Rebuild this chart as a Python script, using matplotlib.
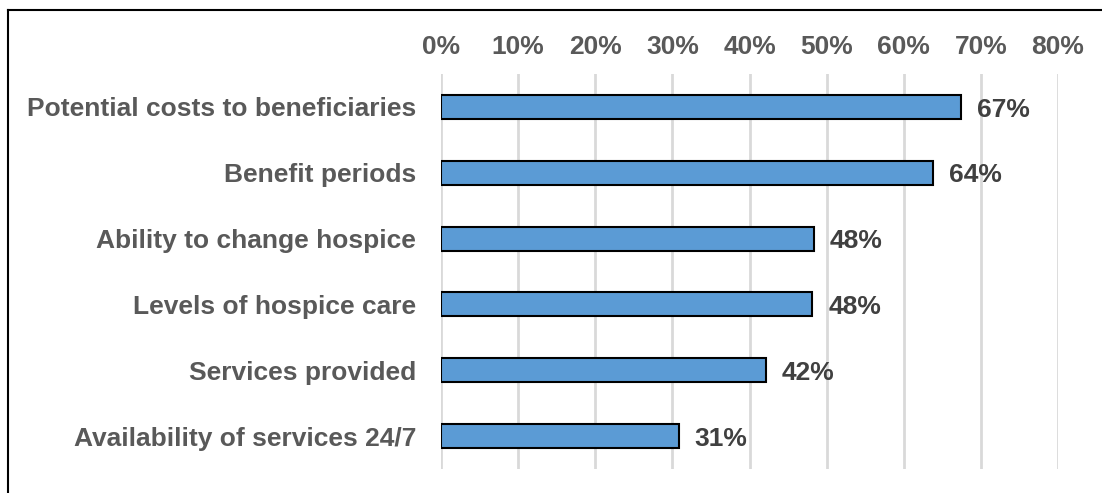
"""Hospice benefit topics - horizontal bar chart, percentages on a top axis."""

import matplotlib
matplotlib.use("Agg")
import matplotlib.pyplot as plt
from matplotlib.lines import Line2D
from matplotlib.ticker import FuncFormatter, MultipleLocator

categories = [
    "Potential costs to beneficiaries",
    "Benefit periods",
    "Ability to change hospice",
    "Levels of hospice care",
    "Services provided",
    "Availability of services 24/7",
]
values = [67.4, 63.8, 48.3, 48.1, 42.1, 30.8]
value_labels = ["67%", "64%", "48%", "48%", "42%", "31%"]

BAR_COLOR = "#5B9BD5"
TICK_GREY = "#595959"
LABEL_GREY = "#404040"
FS = 19

plt.rcParams["font.family"] = ["Liberation Sans", "DejaVu Sans"]
plt.rcParams["font.weight"] = "bold"

W, H = 1102, 493
fig = plt.figure(figsize=(W / 100, H / 100), dpi=100)
# axes: x 441..1058 px, y 74..469 px
ax = fig.add_axes([441 / W, 1 - 469 / H, (1058 - 441) / W, (469 - 74) / H])

y = list(range(len(categories)))
ax.barh(y, values, height=0.365, color=BAR_COLOR, edgecolor="black", linewidth=1.5, zorder=3)
for yi, v, lab in zip(y, values, value_labels):
    ax.text(v + 2.1, yi + 0.04, lab, va="center", ha="left", fontsize=FS,
            fontweight="bold", color=LABEL_GREY)

ax.set_ylim(len(categories) - 0.5, -0.5)
ax.set_yticks(y)
ax.set_yticklabels(categories, fontsize=FS, fontweight="bold", color=TICK_GREY)
ax.set_xlim(0, 80)
ax.xaxis.set_major_locator(MultipleLocator(10))
ax.xaxis.set_major_formatter(FuncFormatter(lambda v, _: f"{v:.0f}%"))
ax.xaxis.tick_top()
ax.tick_params(axis="x", labelsize=FS, colors=TICK_GREY, length=0, pad=11)
ax.tick_params(axis="y", length=0, pad=18)
for lab in ax.get_xticklabels():
    lab.set_fontweight("bold")
ax.grid(axis="x", color="#D9D9D9", linewidth=2, zorder=0)
for s in ax.spines.values():
    s.set_visible(False)

# outer chart border (only top and left edges fall inside the image)
fig.add_artist(Line2D([8 / W, 1], [1 - 10 / H, 1 - 10 / H], color="black", linewidth=1.5,
                      transform=fig.transFigure))
fig.add_artist(Line2D([8 / W, 8 / W], [0, 1 - 10 / H], color="black", linewidth=1.5,
                      transform=fig.transFigure))

fig.savefig("out.png", dpi=100)
